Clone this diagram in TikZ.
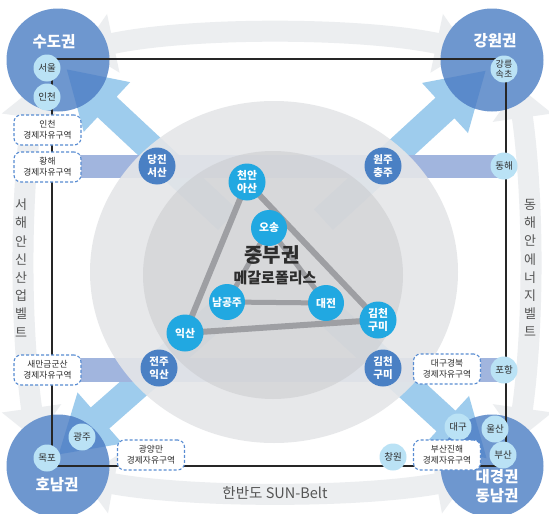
\documentclass[tikz,border=0pt]{standalone}
\usepackage{fontspec}
\setmainfont{Noto Sans CJK KR}
\usetikzlibrary{calc,arrows.meta}
\pgfdeclarelayer{back}
\pgfdeclarelayer{lines}
\pgfsetlayers{back,lines,main}

\definecolor{ringgray}{RGB}{236,238,240}
\definecolor{arrowblue}{RGB}{158,204,237}
\definecolor{arrowdark}{RGB}{90,138,203}
\definecolor{bandblue}{RGB}{161,181,222}
\definecolor{outergray}{RGB}{229,230,232}
\definecolor{innergray}{RGB}{200,201,204}
\definecolor{regionblue}{RGB}{110,151,207}
\definecolor{midblue}{RGB}{74,128,196}
\definecolor{cyanblue}{RGB}{33,168,225}
\definecolor{paleblue}{RGB}{186,226,245}
\definecolor{dashblue}{RGB}{88,140,210}
\definecolor{triagray}{RGB}{158,159,163}
\definecolor{textgray}{RGB}{85,85,85}
\definecolor{darktext}{RGB}{45,45,45}

\newcommand\diagarrow[2]{%
  \fill[#2] ($(#1)!-55pt!(C)$) -- ($(#1)!34pt!90:(C)$) -- ($(#1)!14pt!90:(C)$)
    -- ($(#1)!165pt!(C)!14pt!90:(C)$) -- ($(#1)!165pt!(C)!14pt!-90:(C)$)
    -- ($(#1)!14pt!-90:(C)$) -- ($(#1)!34pt!-90:(C)$) -- cycle;}

\begin{document}
\begin{tikzpicture}[x=1pt,y=-1pt,
  regioncirc/.style={circle, fill=regionblue, minimum size=103pt, inner sep=0pt},
  regionlabel/.style={text=white, font=\fontsize{15.5}{19}\selectfont\bfseries, align=center, inner sep=0pt},
  palenode/.style={circle, fill=paleblue, minimum size=27pt, inner sep=0pt, text=darktext, font=\fontsize{9.5}{10}\selectfont, align=center},
  midnode/.style={circle, fill=midblue, minimum size=37pt, inner sep=0pt, text=white, font=\fontsize{10.5}{13}\selectfont\bfseries, align=center},
  cyannode/.style={circle, fill=cyanblue, minimum size=36pt, inner sep=0pt, text=white, font=\fontsize{10.8}{13}\selectfont\bfseries, align=center},
  ezone/.style={draw=dashblue, dash pattern=on 3pt off 2pt, line width=1.1pt, rounded corners=7pt, fill=white, minimum width=67pt, minimum height=30pt, inner sep=0pt, align=center, text=darktext, font=\fontsize{8.7}{11}\selectfont},
  ringband/.style={draw=ringgray, line width=21pt, arrows={Triangle[width=58pt,length=32pt]-Triangle[width=58pt,length=32pt]}},
  hband/.style={fill=bandblue},
  triline/.style={draw=triagray, line width=6pt, line join=round},
  innerline/.style={draw=triagray, line width=5pt, line join=round},
  frameline/.style={draw=black!85, line width=1.1pt},
  beltlabel/.style={text=textgray, font=\fontsize{13}{18.2}\selectfont, align=center, inner sep=0pt}
]
\useasboundingbox (0,0) rectangle (549,514);

\begin{pgfonlayer}{back}
  \fill[white] (0,0) rectangle (549,514);
  % outer ring bands
  \coordinate (rtL) at (82,50);   \coordinate (rtR) at (468,50);
  \coordinate (rlT) at (36,86);   \coordinate (rlB) at (36,440);
  \coordinate (rrT) at (518,86);  \coordinate (rrB) at (518,440);
  \coordinate (rbL) at (82,478);  \coordinate (rbR) at (468,478);
  \draw[ringband] (rtL) .. controls (190,27) and (360,27) .. (rtR);
  \draw[ringband] (rlT) .. controls (20,200) and (20,326) .. (rlB);
  \draw[ringband] (rrT) .. controls (534,200) and (534,326) .. (rrB);
  \draw[ringband] (rbL) .. controls (190,498) and (360,498) .. (rbR);
  % diagonal arrows
  \coordinate (C) at (275,264);
  \coordinate (nwB) at (107,107);
  \coordinate (neB) at (445,108);
  \coordinate (swB) at (100,418);
  \coordinate (seB) at (446,421);
  \diagarrow{nwB}{arrowblue}
  \diagarrow{neB}{arrowblue}
  \diagarrow{swB}{arrowblue}
  \diagarrow{seB}{arrowblue}
  % horizontal bands
  \fill[hband] (47,155) rectangle (505,178);
  \fill[hband] (47,358) rectangle (505,382);
  % central discs
  \fill[outergray, fill opacity=0.9] (274,272) ellipse [x radius=184, y radius=171];
  \fill[innergray, fill opacity=0.5] (273,275) ellipse [x radius=130, y radius=124];
  % region circles
  \node[regioncirc] (sudo) at (58,60) {};
  \node[regioncirc] (gangwon) at (492,60) {};
  \node[regioncirc] (honam) at (58,466) {};
  \node[regioncirc] (daegyeong) at (492,466) {};
  \begin{scope}\clip (sudo.center) circle (51.5pt); \diagarrow{nwB}{arrowdark}\end{scope}
  \begin{scope}\clip (gangwon.center) circle (51.5pt); \diagarrow{neB}{arrowdark}\end{scope}
  \begin{scope}\clip (honam.center) circle (51.5pt); \diagarrow{swB}{arrowdark}\end{scope}
  \begin{scope}\clip (daegyeong.center) circle (51.5pt); \diagarrow{seB}{arrowdark}\end{scope}
\end{pgfonlayer}

% region labels
\node[regionlabel] (sudoL) at (54,42) {수도권};
\node[regionlabel] (gangwonL) at (495,41) {강원권};
\node[regionlabel] (honamL) at (57,485) {호남권};
\node[regionlabel] (daegyeongL) at (497,486) {대경권\\동남권};

% belt labels
\node[beltlabel] (westbelt) at (21,268) {서\\해\\안\\신\\산\\업\\벨\\트};
\node[beltlabel] (eastbelt) at (530,268) {동\\해\\안\\에\\너\\지\\벨\\트};
\node[text=textgray, font=\fontsize{14.5}{16}\selectfont, inner sep=0pt] (sunbelt) at (275,493) {한반도 SUN-Belt};

% small city nodes
\node[palenode] (seoul) at (47,68) {서울};
\node[palenode] (incheon) at (47,97) {인천};
\node[palenode, font=\fontsize{9}{9.5}\selectfont] (gangneung) at (504,69) {강릉\\속초};
\node[palenode] (donghae) at (504,166) {동해};
\node[palenode] (pohang) at (504,370) {포항};
\node[palenode] (daegu) at (458,427) {대구};
\node[palenode] (ulsan) at (495,429) {울산};
\node[palenode] (busan) at (503,455) {부산};
\node[palenode] (changwon) at (393,457) {창원};
\node[palenode] (gwangju) at (82,437) {광주};
\node[palenode] (mokpo) at (47,458) {목포};

% free economic zones
\node[ezone] (fezIncheon) at (47.5,130) {인천\\경제자유구역};
\node[ezone] (fezHwanghae) at (47.5,167) {황해\\경제자유구역};
\node[ezone] (fezSaemangeum) at (47.5,370) {새만금군산\\경제자유구역};
\node[ezone] (fezGwangyang) at (151,455) {광양만\\경제자유구역};
\node[ezone] (fezDaegu) at (447,369) {대구경북\\경제자유구역};
\node[ezone] (fezBusan) at (447,455) {부산진해\\경제자유구역};

% band nodes
\node[midnode] (dangjin) at (157,166) {당진\\서산};
\node[midnode] (wonju) at (383,166) {원주\\충주};
\node[midnode] (jeonju) at (159,368) {전주\\익산};
\node[midnode] (gimcheonB) at (383,368) {김천\\구미};

% triangle nodes
\node[cyannode, minimum size=37pt] (cheonan) at (247,182) {천안\\아산};
\node[cyannode] (osong) at (269,228) {오송};
\node[cyannode] (namgongju) at (227,302) {남공주};
\node[cyannode] (daejeon) at (326,303) {대전};
\node[cyannode, minimum size=37pt] (iksan) at (185,333) {익산};
\node[cyannode, minimum size=37pt] (gimcheonT) at (378,320) {김천\\구미};

\node[text=darktext, font=\fontsize{20}{22}\selectfont\bfseries, inner sep=0pt] (jungbu) at (272,255) {중부권};
\node[text=darktext, font=\fontsize{15}{17}\selectfont\bfseries, inner sep=0pt] (mega) at (275,278) {메갈로폴리스};

\begin{pgfonlayer}{lines}
  \coordinate (fTL) at (52,59);
  \coordinate (fTR) at (506,59);
  \coordinate (fBR) at (506,466);
  \coordinate (fBL) at (52,466);
  \draw[frameline] (fTL) -- (fTR) -- (fBR) -- (fBL) -- cycle;
  \draw[triline] (cheonan.center) -- (iksan.center) -- (gimcheonT.center) -- cycle;
  \draw[innerline] (osong.center) -- (namgongju.center) -- (daejeon.center) -- cycle;
\end{pgfonlayer}
\end{tikzpicture}
\end{document}
